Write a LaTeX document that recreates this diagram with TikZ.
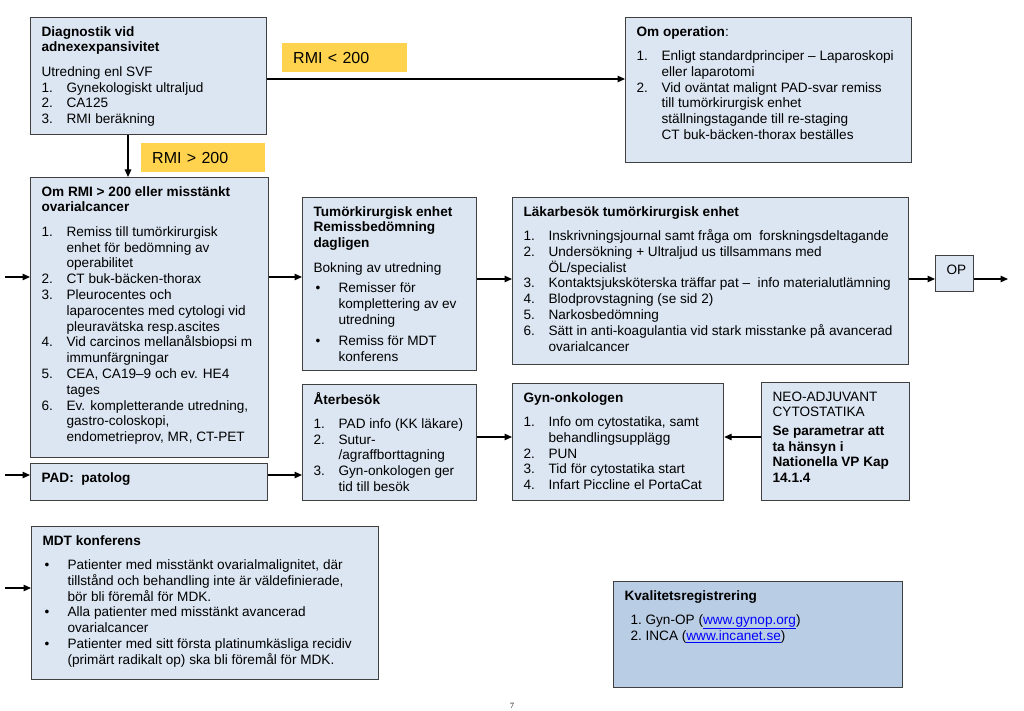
\documentclass[tikz,border=0pt]{standalone}
\usepackage{fontspec}
\setmainfont{Liberation Sans}
\newfontfamily\pgfont{Liberation Serif}
\usetikzlibrary{arrows.meta}
\definecolor{boxfill}{HTML}{DCE6F2}
\definecolor{boxline}{HTML}{404040}
\definecolor{regfill}{HTML}{B9CDE5}
\definecolor{rmifill}{HTML}{FFD34E}
\definecolor{linkblue}{HTML}{0000FF}
\newlength\nrw \setlength\nrw{25pt}
\newcommand\nr[2]{\par{\let\\\newline\hangindent=\nrw\hangafter=1\noindent\makebox[\nrw][l]{#1}#2\par}}
\newcommand\panel[3]{\parbox[t][\dimexpr#2pt-15pt\relax][t]{\dimexpr#1pt-22pt\relax}{\raggedright\hfuzz=20pt\strut#3}}
\newcommand\head[1]{\textbf{#1}\par\vspace{8.5pt}}
\newcommand\weblink[1]{\textcolor{linkblue}{\underline{#1}}}
\tikzset{
  box/.style={draw=boxline, fill=boxfill, line width=1.2pt, anchor=north west, inner xsep=11pt, inner ysep=7.5pt},
  rmilabel/.style={fill=rmifill, anchor=north west, inner xsep=11pt, inner ysep=0pt, minimum height=29pt, align=left, font=\fontsize{16}{19}\selectfont},
  arr/.style={-{Triangle[length=7.5pt,width=6.5pt]}, line width=1.2pt}
}

\begin{document}
\begin{tikzpicture}[x=1pt, y=-1pt, every node/.style={font=\fontsize{13.6}{15.8}\selectfont}]
\useasboundingbox (0,0) rectangle (1024,711);
% Utredning
\node[box] (diag) at (30,17) {\panel{236}{117}{\head{Diagnostik vid\\adnexexpansivitet}
  Utredning enl SVF
  \nr{1.}{Gynekologiskt ultraljud}
  \nr{2.}{CA125}
  \nr{3.}{RMI beräkning}}};
\node[rmilabel, text width=103pt] (rmiA) at (282,43) {RMI < 200};
\node[rmilabel, text width=102pt] (rmiB) at (141,143) {RMI > 200};
\node[box] (oper) at (625,17) {\panel{286}{145}{\textbf{Om operation}:\par\vspace{8.5pt}
  \nr{1.}{Enligt standardprinciper – Laparoskopi\\eller laparotomi}
  \nr{2.}{Vid oväntat malignt PAD-svar remiss\\till tumörkirurgisk enhet\\ställningstagande till re-staging\\CT buk-bäcken-thorax beställes}}};
% Vänster kolumn
\node[box] (rmi2) at (30,177) {\panel{238}{280}{\head{Om RMI > 200 eller misstänkt\\ovarialcancer}
  \nr{1.}{Remiss till tumörkirurgisk\\enhet för bedömning av\\operabilitet}
  \nr{2.}{CT buk-bäcken-thorax}
  \nr{3.}{Pleurocentes och\\laparocentes med cytologi vid\\pleuravätska resp.ascites}
  \nr{4.}{Vid carcinos mellanålsbiopsi m\\immunfärgningar}
  \nr{5.}{CEA, CA19–9 och ev. HE4\\tages}
  \nr{6.}{Ev. kompletterande utredning,\\gastro-coloskopi,\\endometrieprov, MR, CT-PET}}};
\node[box] (pad) at (30,463) {\panel{237}{37}{\textbf{PAD: \ patolog}}};
% Tumörkirurgisk enhet
\node[box] (tumor) at (302,197) {\panel{174}{173}{\head{Tumörkirurgisk enhet\\Remissbedömning\\dagligen}
  Bokning av utredning\par\vspace{5pt}
  \nr{\hspace{2pt}•}{Remisser för\\komplettering av ev\\utredning}\vspace{5pt}
  \nr{\hspace{2pt}•}{Remiss för MDT\\konferens}}};
\node[box] (ater) at (302,384) {\panel{174}{116}{\head{Återbesök}
  \nr{1.}{PAD info (KK läkare)}
  \nr{2.}{Sutur-\\/agraffborttagning}
  \nr{3.}{Gyn-onkologen ger\\tid till besök}}};
\node[box] (lakar) at (512,197) {\panel{396}{167}{\head{Läkarbesök tumörkirurgisk enhet}
  \nr{1.}{Inskrivningsjournal samt fråga om \ forskningsdeltagande}
  \nr{2.}{Undersökning + Ultraljud us tillsammans med\\ÖL/specialist}
  \nr{3.}{Kontaktsjuksköterska träffar pat – \ info materialutlämning}
  \nr{4.}{Blodprovstagning (se sid 2)}
  \nr{5.}{Narkosbedömning}
  \nr{6.}{Sätt in anti-koagulantia vid stark misstanke på avancerad\\ovarialcancer}}};
\node[box] (op) at (935,255) {\panel{38}{36}{OP}};
\node[box] (gynonk) at (512,383) {\panel{211}{117}{\head{Gyn-onkologen}
  \nr{1.}{Info om cytostatika, samt\\behandlingsupplägg}
  \nr{2.}{PUN}
  \nr{3.}{Tid för cytostatika start}
  \nr{4.}{Infart Piccline el PortaCat}}};
\node[box] (neo) at (761,382) {\panel{148}{118}{NEO-ADJUVANT\\CYTOSTATIKA\par\vspace{2.5pt}
  \textbf{Se parametrar att\\ta hänsyn i\\Nationella VP Kap\\14.1.4}}};
% MDT och register
\node[box] (mdt) at (31,526) {\panel{347}{153}{\head{MDT konferens}
  \nr{\hspace{2pt}•}{Patienter med misstänkt ovarialmalignitet, där\\tillstånd och behandling inte är väldefinierade,\\bör bli föremål för MDK.}
  \nr{\hspace{2pt}•}{Alla patienter med misstänkt avancerad\\ovarialcancer}
  \nr{\hspace{2pt}•}{Patienter med sitt första platinumkäsliga recidiv\\(primärt radikalt op) ska bli föremål för MDK.}}};
\node[box, fill=regfill] (kval) at (613,581) {\panel{289}{106}{\head{Kvalitetsregistrering}
  \leftskip=6pt\setlength\nrw{15pt}
  \nr{1.}{Gyn-OP (\weblink{www.gynop.org})}
  \nr{2.}{INCA (\weblink{www.incanet.se})}}};
\node (pgnum) at (512,706) {\pgfont\fontsize{8}{9}\selectfont 7};
% Pilar
\coordinate (in1) at (5,277);
\coordinate (in2) at (5,475);
\coordinate (in3) at (5,588);
\coordinate (out1) at (1008,279);
\coordinate (lowrow) at (0,79);
\coordinate (downcol) at (128,0);
\coordinate (lakrow) at (0,279);
\coordinate (gynrow) at (0,437);
\draw[arr] (diag.east |- lowrow) -- (oper.west |- lowrow);
\draw[arr] (diag.south -| downcol) -- (rmi2.north -| downcol);
\draw[arr] (in1) -- (rmi2.west |- in1);
\draw[arr] (rmi2.east |- in1) -- (tumor.west |- in1);
\draw[arr] (tumor.east |- lakrow) -- (lakar.west |- lakrow);
\draw[arr] (lakar.east |- lakrow) -- (op.west |- lakrow);
\draw[arr] (op.east |- out1) -- (out1);
\draw[arr] (in2) -- (pad.west |- in2);
\draw[arr] (pad.east |- in2) -- (ater.west |- in2);
\draw[arr] (ater.east |- gynrow) -- (gynonk.west |- gynrow);
\draw[arr] (neo.west |- gynrow) -- (gynonk.east |- gynrow);
\draw[arr] (in3) -- (mdt.west |- in3);
\end{tikzpicture}
\end{document}
